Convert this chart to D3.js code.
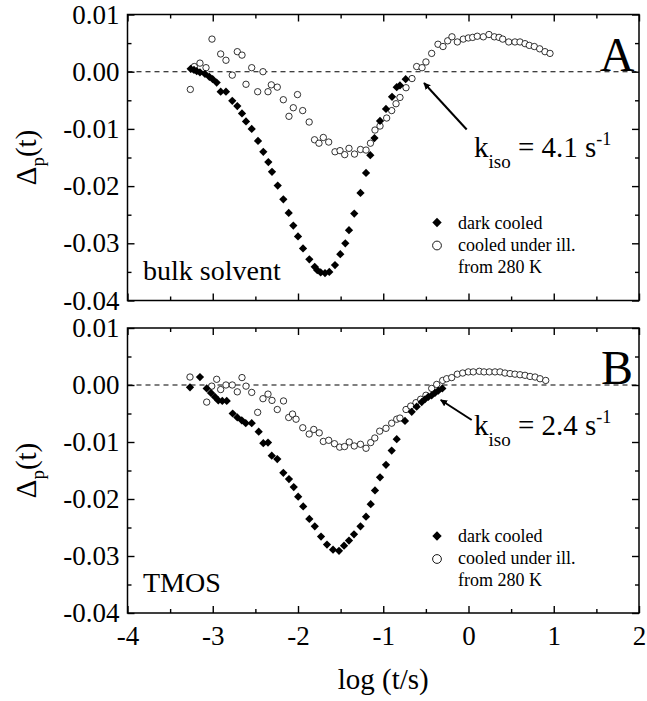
<!DOCTYPE html>
<html>
<head>
<meta charset="utf-8">
<script src="https://cdn.jsdelivr.net/npm/d3@7"></script>
<style>
  body { margin: 0; background: #fff; }
</style>
</head>
<body>
<div id="chart"></div>
<script>
// ---- data: panel A (bulk solvent) ----
const darkA_x = [-3.259, -3.220, -3.188, -3.150, -3.091, -3.040, -3.001, -2.954, -2.907, -2.845,
  -2.771, -2.712, -2.657, -2.610, -2.543, -2.469, -2.407, -2.348, -2.305, -2.238,
  -2.172, -2.109, -2.055, -2.000, -1.941, -1.867, -1.804, -1.774, -1.734, -1.683,
  -1.633, -1.566, -1.504, -1.445, -1.402, -1.340, -1.267, -1.202, -1.152, -1.103,
  -1.038, -0.968, -0.897, -0.842, -0.804, -0.737];
const darkA_y = [0.0005, 0.0003, 0.0001, -0.0001, -0.0004, -0.0009, -0.0013, -0.0019, -0.0035, -0.0035,
  -0.0051, -0.0060, -0.0073, -0.0087, -0.0100, -0.0121, -0.0140, -0.0158, -0.0175, -0.0199,
  -0.0223, -0.0247, -0.0269, -0.0288, -0.0309, -0.0328, -0.0341, -0.0347, -0.0351, -0.0352,
  -0.0350, -0.0338, -0.0319, -0.0300, -0.0277, -0.0248, -0.0212, -0.0177, -0.0146, -0.0116,
  -0.0086, -0.0065, -0.0044, -0.0027, -0.0024, -0.0013];

const illA_x = [-3.263, -3.216, -3.150, -3.079, -3.009, -2.907, -2.845, -2.771, -2.712, -2.657,
  -2.610, -2.543, -2.473, -2.411, -2.352, -2.313, -2.243, -2.172, -2.106, -2.055,
  -2.006, -1.945, -1.869, -1.806, -1.754, -1.703, -1.640, -1.566, -1.507, -1.452,
  -1.402, -1.337, -1.267, -1.202, -1.150, -1.097, -1.038, -0.960, -0.901, -0.850,
  -0.804, -0.733, -0.663, -0.608, -0.545, -0.499, -0.432, -0.358, -0.299, -0.244,
  -0.194, -0.131, -0.061, -0.002, 0.049, 0.103, 0.174, 0.240, 0.303, 0.358,
  0.401, 0.472, 0.545, 0.604, 0.663, 0.713, 0.772, 0.835, 0.897, 0.956];
const illA_y = [-0.0031, 0.0009, 0.0015, 0.0007, 0.0057, 0.0031, 0.0020, -0.0006, 0.0035, 0.0029,
  -0.0022, 0.0007, -0.0035, 0.0000, -0.0035, -0.0023, -0.0027, -0.0049, -0.0078, -0.0063,
  -0.0040, -0.0068, -0.0088, -0.0119, -0.0125, -0.0115, -0.0123, -0.0140, -0.0138, -0.0145,
  -0.0134, -0.0144, -0.0136, -0.0137, -0.0125, -0.0102, -0.0095, -0.0081, -0.0068, -0.0056,
  -0.0045, -0.0028, -0.0012, 0.0009, 0.0007, 0.0017, 0.0032, 0.0048, 0.0044, 0.0054,
  0.0061, 0.0052, 0.0057, 0.0059, 0.0060, 0.0062, 0.0061, 0.0065, 0.0061, 0.0060,
  0.0057, 0.0052, 0.0052, 0.0052, 0.0049, 0.0046, 0.0044, 0.0040, 0.0035, 0.0032];

// ---- data: panel B (TMOS) ----
const darkB_x = [-3.267, -3.150, -3.071, -3.021, -2.974, -2.935, -2.888, -2.836, -2.766, -2.712,
  -2.660, -2.613, -2.543, -2.461, -2.407, -2.352, -2.308, -2.243, -2.172, -2.106,
  -2.050, -1.998, -1.939, -1.867, -1.803, -1.730, -1.660, -1.589, -1.519, -1.460,
  -1.402, -1.343, -1.267, -1.202, -1.147, -1.097, -1.038, -0.968, -0.901, -0.842,
  -0.745, -0.666, -0.608, -0.549, -0.510, -0.472, -0.432, -0.393, -0.354, -0.307];
const darkB_y = [-0.0004, 0.0014, -0.0006, -0.0014, -0.0021, -0.0027, -0.0028, -0.0028, -0.0050, -0.0057,
  -0.0062, -0.0067, -0.0067, -0.0082, -0.0102, -0.0101, -0.0124, -0.0130, -0.0154, -0.0165,
  -0.0179, -0.0196, -0.0213, -0.0235, -0.0248, -0.0266, -0.0280, -0.0289, -0.0291, -0.0282,
  -0.0273, -0.0262, -0.0248, -0.0231, -0.0209, -0.0185, -0.0162, -0.0140, -0.0115, -0.0095,
  -0.0063, -0.0047, -0.0038, -0.0030, -0.0025, -0.0021, -0.0018, -0.0014, -0.0010, -0.0006];

const illB_x = [-3.267, -3.071, -3.012, -2.954, -2.907, -2.845, -2.771, -2.712, -2.657, -2.610,
  -2.543, -2.473, -2.411, -2.352, -2.305, -2.243, -2.170, -2.109, -2.064, -2.023,
  -1.944, -1.869, -1.815, -1.751, -1.703, -1.640, -1.572, -1.511, -1.454, -1.399,
  -1.340, -1.267, -1.202, -1.147, -1.099, -1.042, -0.968, -0.901, -0.842, -0.804,
  -0.733, -0.678, -0.616, -0.561, -0.499, -0.432, -0.373, -0.303, -0.256, -0.197,
  -0.131, -0.068, -0.002, 0.056, 0.127, 0.182, 0.244, 0.311, 0.370, 0.428,
  0.487, 0.545, 0.604, 0.663, 0.722, 0.781, 0.839, 0.906];
const illB_y = [0.0014, -0.0030, -0.0002, 0.0010, -0.0008, 0.0000, 0.0000, -0.0012, 0.0013, -0.0002,
  -0.0013, -0.0048, -0.0024, -0.0016, -0.0027, -0.0043, -0.0028, -0.0057, -0.0051, -0.0060,
  -0.0075, -0.0086, -0.0078, -0.0084, -0.0099, -0.0097, -0.0103, -0.0109, -0.0108, -0.0100,
  -0.0107, -0.0104, -0.0111, -0.0101, -0.0093, -0.0081, -0.0076, -0.0067, -0.0060, -0.0058,
  -0.0043, -0.0037, -0.0031, -0.0025, -0.0018, -0.0006, 0.0001, 0.0008, 0.0011, 0.0013,
  0.0019, 0.0021, 0.0023, 0.0023, 0.0024, 0.0023, 0.0023, 0.0023, 0.0023, 0.0021,
  0.0020, 0.0019, 0.0018, 0.0017, 0.0015, 0.0014, 0.0011, 0.0008];

const xTicks = [-4, -3, -2, -1, 0, 1, 2];
const yTicks = [0.01, 0.00, -0.01, -0.02, -0.03, -0.04];
const legendLabels = ['dark cooled', 'cooled under ill.', 'from 280 K'];

const panels = [
  { letter: 'A', name: 'bulk solvent', k: '4.1', dark: [darkA_x, darkA_y], ill: [illA_x, illA_y],
    top: 14.5, bottom: 300.5, showX: false },
  { letter: 'B', name: 'TMOS', k: '2.4', dark: [darkB_x, darkB_y], ill: [illB_x, illB_y],
    top: 328, bottom: 613, showX: true }
];

// ---- chart ----
const width = 647, height = 701;
const font = '"Liberation Serif", "Times New Roman", serif';

const svg = d3.select('#chart')
  .append('svg')
  .attr('width', width)
  .attr('height', height)
  .style('font-family', font);

svg.append('defs').append('marker')
  .attr('id', 'arrow')
  .attr('viewBox', '0 0 10 10')
  .attr('refX', 9).attr('refY', 5)
  .attr('markerWidth', 7).attr('markerHeight', 7)
  .attr('markerUnits', 'userSpaceOnUse')
  .attr('orient', 'auto')
  .append('path')
  .attr('d', 'M0,0 L10,5 L0,10 z')
  .attr('fill', '#000');

const x = d3.scaleLinear().domain([-4, 2]).range([127.5, 639]);
const left = x.range()[0], right = x.range()[1];

const diamond = d3.symbol(d3.symbolSquare, 34);
const hyphen = s => s.replace('\u2212', '-');

function pts(arr) {
  return arr[0].map((v, i) => ({ x: v, y: arr[1][i] }));
}

function drawPanel(p) {
  const y = d3.scaleLinear().domain([-0.04, 0.01]).range([p.bottom, p.top]);
  const g = svg.append('g');

  // zero line
  g.append('line')
    .attr('x1', left).attr('x2', right)
    .attr('y1', y(0)).attr('y2', y(0))
    .attr('stroke', '#000').attr('stroke-width', 1.1)
    .attr('stroke-dasharray', '5,4');

  // axes, ticks pointing inward
  const minorX = d3.range(-3.5, 2, 1);
  const minorY = [0.005, -0.005, -0.015, -0.025, -0.035];

  const xb = g.append('g').attr('transform', `translate(0,${p.bottom})`)
    .call(d3.axisBottom(x).tickValues(xTicks).tickSizeInner(-7).tickSizeOuter(0).tickPadding(10)
      .tickFormat(p.showX ? (d => hyphen(d3.format('.0f')(d))) : ''));
  const xt = g.append('g').attr('transform', `translate(0,${p.top})`)
    .call(d3.axisTop(x).tickValues(xTicks).tickSizeInner(-7).tickSizeOuter(0).tickFormat(''));
  const yl = g.append('g').attr('transform', `translate(${left},0)`)
    .call(d3.axisLeft(y).tickValues(yTicks).tickSizeInner(-7).tickSizeOuter(0).tickPadding(8)
      .tickFormat(d => hyphen(d3.format('.2f')(d))));
  const yr = g.append('g').attr('transform', `translate(${right},0)`)
    .call(d3.axisRight(y).tickValues(yTicks).tickSizeInner(-7).tickSizeOuter(0).tickFormat(''));

  const mx1 = g.append('g').attr('transform', `translate(0,${p.bottom})`)
    .call(d3.axisBottom(x).tickValues(minorX).tickSizeInner(-4).tickSizeOuter(0).tickFormat(''));
  const mx2 = g.append('g').attr('transform', `translate(0,${p.top})`)
    .call(d3.axisTop(x).tickValues(minorX).tickSizeInner(-4).tickSizeOuter(0).tickFormat(''));
  const my1 = g.append('g').attr('transform', `translate(${left},0)`)
    .call(d3.axisLeft(y).tickValues(minorY).tickSizeInner(-4).tickSizeOuter(0).tickFormat(''));
  const my2 = g.append('g').attr('transform', `translate(${right},0)`)
    .call(d3.axisRight(y).tickValues(minorY).tickSizeInner(-4).tickSizeOuter(0).tickFormat(''));

  [xb, xt, yl, yr, mx1, mx2, my1, my2].forEach(a => {
    a.select('.domain').remove();
    a.selectAll('line').attr('stroke-width', 1.4);
    a.selectAll('text').style('font-family', font).style('font-size', '27px').attr('fill', '#000');
  });
  xb.selectAll('text').attr('dy', '0.8em');

  // frame
  g.append('rect')
    .attr('x', left).attr('y', p.top)
    .attr('width', right - left).attr('height', p.bottom - p.top)
    .attr('fill', 'none').attr('stroke', '#000').attr('stroke-width', 1.5);

  // open circles: cooled under illumination
  g.append('g').selectAll('circle')
    .data(pts(p.ill))
    .join('circle')
    .attr('cx', d => x(d.x)).attr('cy', d => y(d.y))
    .attr('r', 3.2)
    .attr('fill', '#fff').attr('stroke', '#000').attr('stroke-width', 0.8);

  // filled diamonds: dark cooled
  g.append('g').selectAll('path')
    .data(pts(p.dark))
    .join('path')
    .attr('d', diamond)
    .attr('transform', d => `translate(${x(d.x)},${y(d.y)}) rotate(45)`)
    .attr('fill', '#000');

  // panel letter
  g.append('text')
    .attr('x', 617).attr('y', p.top + 56)
    .attr('text-anchor', 'middle')
    .style('font-size', '48px')
    .text(p.letter);

  // sample label
  g.append('text')
    .attr('x', 143).attr('y', p.bottom - 21)
    .style('font-size', '28px')
    .text(p.name);

  // k_iso annotation
  const kx = 474, ky = p.top + (p.letter === 'A' ? 142 : 107);
  const kt = g.append('text').attr('x', kx).attr('y', ky).style('font-size', '29px');
  kt.append('tspan').text('k');
  kt.append('tspan').attr('dy', 11).style('font-size', '19px').text('iso');
  kt.append('tspan').attr('dy', -11).text(` = ${p.k} s`);
  kt.append('tspan').attr('dy', -12).style('font-size', '18px').text('-1');

  // arrow pointing at the crossing
  const arrowFrom = p.letter === 'A' ? [466.7, p.top + 115] : [471.7, p.top + 92];
  const arrowTo = p.letter === 'A' ? [424, p.top + 68.5] : [440.7, p.top + 72];
  g.append('line')
    .attr('x1', arrowFrom[0]).attr('y1', arrowFrom[1])
    .attr('x2', arrowTo[0]).attr('y2', arrowTo[1])
    .attr('stroke', '#000').attr('stroke-width', 2)
    .attr('marker-end', 'url(#arrow)');

  // legend
  const lx = 437, ly = p.top + 208;
  g.append('path').attr('d', d3.symbol(d3.symbolSquare, 44))
    .attr('transform', `translate(${lx},${ly}) rotate(45)`).attr('fill', '#000');
  g.append('circle').attr('cx', lx).attr('cy', ly + 23).attr('r', 4.4)
    .attr('fill', '#fff').attr('stroke', '#000').attr('stroke-width', 0.9);
  legendLabels.forEach((t, i) => {
    g.append('text')
      .attr('x', lx + 21).attr('y', ly + 6 + i * 22)
      .style('font-size', '18px')
      .text(t);
  });

  // y axis title
  const yt = g.append('text')
    .attr('transform', `translate(36,${(p.top + p.bottom) / 2}) rotate(-90)`)
    .attr('text-anchor', 'middle')
    .style('font-size', '29px');
  yt.append('tspan').text('\u0394');
  yt.append('tspan').attr('dy', 8).style('font-size', '19px').text('p');
  yt.append('tspan').attr('dy', -8).text('(t)');
}

panels.forEach(drawPanel);

// x axis title
svg.append('text')
  .attr('x', (left + right) / 2).attr('y', 689)
  .attr('text-anchor', 'middle')
  .style('font-size', '29px')
  .text('log (t/s)');
</script>
</body>
</html>
